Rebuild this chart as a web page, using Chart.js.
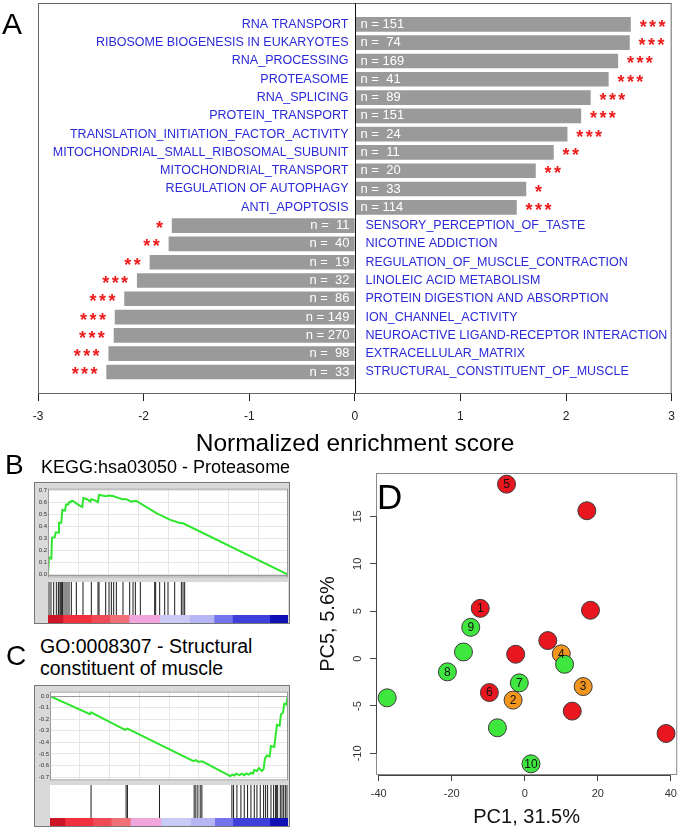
<!DOCTYPE html>
<html>
<head>
<meta charset="utf-8">
<script src="https://cdn.jsdelivr.net/npm/chart.js@4.4.1/dist/chart.umd.min.js"></script>
<style>
  body { margin: 0; background: #fff; width: 683px; height: 831px; position: relative; overflow: hidden;
         font-family: "Liberation Sans", Arial, sans-serif; }
  canvas { position: absolute; }
  .txt { position: absolute; line-height: 1; white-space: nowrap; color: #000; }
  .gsea { position: absolute; box-sizing: border-box; border: 1px solid #777; background: #d9d9d9; }
  .gsea canvas { background: #fff; }
  .gsea canvas.es { background: transparent; }
</style>
</head>
<body>

<canvas id="nesChart" style="left:0;top:0" width="683" height="432"></canvas>
<div class="txt" style="left:2px;top:9px;font-size:30px">A</div>
<div class="txt" style="left:155px;top:431px;width:400px;text-align:center;font-size:24.5px">Normalized enrichment score</div>

<div class="txt" style="left:5px;top:451px;font-size:28px">B</div>
<div class="txt" style="left:41px;top:458px;font-size:18px">KEGG:hsa03050 - Proteasome</div>
<div class="gsea" style="left:34px;top:482px;width:256px;height:142px">
  <canvas id="esB" class="es" style="left:0;top:1px" width="253" height="98"></canvas>
  <canvas id="hitB" style="left:13px;top:99px" width="240" height="33"></canvas>
  <canvas id="barB" style="left:13px;top:132px" width="240" height="8"></canvas>
</div>

<div class="txt" style="left:6px;top:642px;font-size:28px">C</div>
<div class="txt" style="left:40px;top:634.6px;font-size:19.5px;line-height:22.6px">GO:0008307 - Structural<br>constituent of muscle</div>
<div class="gsea" style="left:34px;top:685px;width:256px;height:142px">
  <canvas id="esC" class="es" style="left:0;top:1px" width="253" height="98"></canvas>
  <canvas id="hitC" style="left:15px;top:99px" width="238" height="33"></canvas>
  <canvas id="barC" style="left:15px;top:132px" width="238" height="8"></canvas>
</div>

<canvas id="pcaChart" style="left:300px;top:460px" width="383" height="371"></canvas>
<div class="txt" style="left:377px;top:478.7px;font-size:35px">D</div>

<script>
// ---- panel A: normalized enrichment scores
const pathways = [
    'RNA TRANSPORT', 'RIBOSOME BIOGENESIS IN EUKARYOTES', 'RNA_PROCESSING', 'PROTEASOME',
    'RNA_SPLICING', 'PROTEIN_TRANSPORT', 'TRANSLATION_INITIATION_FACTOR_ACTIVITY',
    'MITOCHONDRIAL_SMALL_RIBOSOMAL_SUBUNIT', 'MITOCHONDRIAL_TRANSPORT', 'REGULATION OF AUTOPHAGY',
    'ANTI_APOPTOSIS', 'SENSORY_PERCEPTION_OF_TASTE', 'NICOTINE ADDICTION',
    'REGULATION_OF_MUSCLE_CONTRACTION', 'LINOLEIC ACID METABOLISM', 'PROTEIN DIGESTION AND ABSORPTION',
    'ION_CHANNEL_ACTIVITY', 'NEUROACTIVE LIGAND-RECEPTOR INTERACTION', 'EXTRACELLULAR_MATRIX',
    'STRUCTURAL_CONSTITUENT_OF_MUSCLE'
];
const nes = [2.61, 2.60, 2.49, 2.40, 2.23, 2.14, 2.01, 1.88, 1.71, 1.62, 1.53,
             -1.73, -1.76, -1.94, -2.06, -2.18, -2.27, -2.28, -2.33, -2.35];
const setSize = [151, 74, 169, 41, 89, 151, 24, 11, 20, 33, 114, 11, 40, 19, 32, 86, 149, 270, 98, 33];
const signif = ['***', '***', '***', '***', '***', '***', '***', '**', '**', '*', '***',
                '*', '**', '**', '***', '***', '***', '***', '***', '***'];
const nesTicks = [-3, -2, -1, 0, 1, 2, 3];

// ---- panels B and C: running enrichment score along the ranked gene list
const rankedGenes = 16500;
const rankGrid = 2000;
const proteasomeRank = [0, 46, 69, 229, 275, 458, 527, 688, 756, 917, 986, 1169, 1238, 1398, 1444, 1559,
    1604, 1719, 2063, 2361, 2430, 2682, 2911, 2980, 3232, 3438, 3507, 3736, 3965, 4194, 4515, 4744,
    5111, 5386, 5730, 5959, 6074, 7449, 8366, 9008, 9283, 16500];
const proteasomeES = [0, 0, 0.143, 0.135, 0.306, 0.311, 0.351, 0.351, 0.432, 0.432, 0.539, 0.532, 0.582,
    0.582, 0.602, 0.602, 0.612, 0.612, 0.582, 0.562, 0.637, 0.627, 0.607, 0.627, 0.617, 0.602, 0.662,
    0.657, 0.652, 0.657, 0.652, 0.642, 0.627, 0.627, 0.607, 0.612, 0.612, 0.512, 0.457, 0.432, 0.427, 0];
const proteasomeHits = [69, 206, 390, 573, 711, 756, 848, 940, 986, 1031, 1169, 1306, 1444, 1604, 1948,
    2407, 2980, 3438, 3507, 3965, 4194, 4355, 4515, 4699, 5157, 5615, 5845, 6005, 6349, 7334, 7403,
    7678, 8022, 8251, 8709, 9168, 9283, 9397];
const proteasomeTicks = [0, 0.1, 0.2, 0.3, 0.4, 0.5, 0.6, 0.7];

const muscleRank = [0, 2777, 2846, 5207, 5368, 9950, 10112, 10297, 10552, 12496, 12634, 12773, 12912,
    13143, 13282, 13467, 13606, 13791, 13930, 14069, 14162, 14347, 14486, 14694, 14810, 14902, 15041,
    15227, 15319, 15550, 15735, 15920, 16013, 16152, 16244, 16383, 16476];
const muscleES = [0, -0.157, -0.141, -0.293, -0.282, -0.562, -0.554, -0.569, -0.564, -0.692, -0.679,
    -0.687, -0.671, -0.684, -0.671, -0.684, -0.669, -0.679, -0.663, -0.671, -0.640, -0.648, -0.622,
    -0.648, -0.632, -0.538, -0.514, -0.522, -0.431, -0.439, -0.248, -0.256, -0.157, -0.144, -0.065,
    -0.073, 0];
const muscleHits = [2846, 5276, 5368, 7590, 9996, 10112, 10251, 10413, 10529, 12611, 12727, 12958, 13236,
    13467, 13698, 13930, 14162, 14347, 14578, 14810, 14948, 15087, 15319, 15504, 15643, 15689, 15782,
    15967, 16082, 16198, 16314, 16429];
const muscleTicks = [0, -0.1, -0.2, -0.3, -0.4, -0.5, -0.6, -0.7];

// ranked list metric shading (segment borders)
const rankBreaks = [0, 1031, 2980, 4240, 5570, 7678, 9740, 11414, 12675, 15240, 16500];
const rankShades = ['#cc1526', '#f0303e', '#ee4a58', '#f07078', '#f0a6dc', '#cacaf6', '#b6b6f4',
                    '#7474ec', '#3f3fdc', '#1010b4'];

// ---- panel D: PCA
const pc1 = [-5.0, 17.0, -12.2, 18.0, 6.3, -2.5, -9.7, 13.0, 38.7,
             10.0, 16.0, -3.2,
             -14.8, -16.8, 10.9, -21.2, -1.5, -37.7, -7.5, 1.7];
const pc5 = [18.4, 15.6, 5.3, 5.1, 1.9, 0.46, -3.58, -5.54, -7.9,
             0.5, -2.95, -4.38,
             3.3, 0.7, -0.6, -1.4, -2.56, -4.14, -7.3, -11.1];
const sampleGroup = ['red', 'red', 'red', 'red', 'red', 'red', 'red', 'red', 'red',
                     'orange', 'orange', 'orange',
                     'green', 'green', 'green', 'green', 'green', 'green', 'green', 'green'];
const sampleLabel = ['5', '', '1', '', '', '', '6', '', '', '4', '3', '2', '9', '', '', '8', '7', '', '', '10'];
const pc1Ticks = [-40, -20, 0, 20, 40];
const pc5Ticks = [-10, -5, 0, 5, 10, 15];
const groupColors = { red: '#e8161e', orange: '#f29620', green: '#3ee63e' };

const FONT = '"Liberation Sans", Arial, sans-serif';
Chart.defaults.font.family = FONT;
Chart.defaults.animation = false;
Chart.defaults.responsive = false;
Chart.defaults.layout.autoPadding = false;
Chart.defaults.plugins.legend.display = false;
Chart.defaults.plugins.tooltip.enabled = false;

// labels, set sizes and significance stars around the bars
const nesDecor = {
    id: 'nesDecor',
    afterDatasetsDraw(chart) {
        const { ctx, chartArea: a, scales: { x } } = chart;
        const x0 = Math.round(x.getPixelForValue(0)) + 0.5;
        ctx.save();
        ctx.strokeStyle = '#666';
        ctx.lineWidth = 1;
        ctx.strokeRect(a.left + 0.5, a.top + 0.5, a.right - a.left - 1, a.bottom - a.top);
        ctx.strokeStyle = '#111';
        ctx.beginPath();
        ctx.moveTo(x0, a.top);
        ctx.lineTo(x0, a.bottom);
        ctx.stroke();

        chart.getDatasetMeta(0).data.forEach((bar, i) => {
            const up = nes[i] > 0;
            const y = bar.y;
            ctx.textBaseline = 'middle';
            ctx.font = '12.5px ' + FONT;
            ctx.fillStyle = '#2a2ad8';
            ctx.textAlign = up ? 'right' : 'left';
            ctx.fillText(pathways[i], up ? x0 - 7 : x0 + 10, y);

            ctx.font = '13px ' + FONT;
            ctx.fillStyle = '#ffffff';
            ctx.textAlign = up ? 'left' : 'right';
            ctx.fillText('n = ' + String(setSize[i]).padStart(3, ' '), up ? x0 + 5 : x0 - 6, y);

            ctx.font = 'bold 18px ' + FONT;
            ctx.fillStyle = '#ee1c1c';
            ctx.textAlign = 'center';
            ctx.textBaseline = 'alphabetic';
            for (let s = 0; s < signif[i].length; s++) {
                const cx = up ? bar.x + 12.7 + s * 9.4 : bar.x - 12.7 - s * 9.4;
                ctx.fillText('*', cx, y + 8.5);
            }
        });
        ctx.restore();
    }
};

new Chart(document.getElementById('nesChart'), {
    type: 'bar',
    data: {
        datasets: [{
            data: nes.map((v, i) => ({ x: v, y: i })),
            backgroundColor: '#9a9a9a',
            barThickness: 14
        }]
    },
    options: {
        indexAxis: 'y',
        layout: { padding: { left: 38, right: 5, top: 3, bottom: 0 } },
        scales: {
            x: {
                type: 'linear', min: -3, max: 3,
                afterBuildTicks: s => { s.ticks = nesTicks.map(v => ({ value: v })); },
                grid: { drawOnChartArea: false, drawTicks: true, tickLength: 8, tickColor: '#222' },
                border: { display: true, color: '#222' },
                ticks: { font: { size: 12 }, color: '#222', padding: 8, callback: v => String(v) },
                afterFit: s => { s.height = 39; }
            },
            y: { type: 'linear', display: false, reverse: true, offset: false, min: -1.17, max: 20.15 }
        }
    },
    plugins: [nesDecor]
});

// white plot area with a thin frame and a zero line
const esFrame = {
    id: 'esFrame',
    beforeDraw(chart) {
        const { ctx, chartArea: a } = chart;
        ctx.save();
        ctx.fillStyle = '#fff';
        ctx.fillRect(a.left, a.top, a.right - a.left, a.bottom - a.top);
        ctx.restore();
    },
    afterDraw(chart) {
        const { ctx, chartArea: a, scales: { y } } = chart;
        const y0 = Math.round(y.getPixelForValue(0)) + 0.5;
        ctx.save();
        ctx.strokeStyle = '#9a9a9a';
        ctx.lineWidth = 1;
        ctx.strokeRect(a.left + 0.5, a.top + 0.5, a.right - a.left - 1, a.bottom - a.top - 1);
        ctx.beginPath();
        ctx.moveTo(a.left, y0);
        ctx.lineTo(a.right, y0);
        ctx.stroke();
        ctx.restore();
    }
};

function drawGsea(tag, ranks, es, hits, yTicks, yMin, yMax, axisWidth) {
    new Chart(document.getElementById('es' + tag), {
        type: 'line',
        data: {
            datasets: [{
                data: ranks.map((r, i) => ({ x: r, y: es[i] })),
                borderColor: '#2ee62e',
                borderWidth: 2,
                pointRadius: 0,
                tension: 0
            }]
        },
        options: {
            layout: { padding: 0 },
            scales: {
                x: {
                    type: 'linear', min: 0, max: rankedGenes,
                    ticks: { display: false, stepSize: rankGrid, includeBounds: false },
                    grid: { color: '#e6e6e6', drawTicks: false },
                    border: { display: false },
                    afterFit: s => { s.height = 0; }
                },
                y: {
                    min: yMin, max: yMax,
                    afterBuildTicks: s => { s.ticks = yTicks.map(v => ({ value: v })); },
                    ticks: { font: { size: 6 }, color: '#333', padding: 1, callback: v => v.toFixed(1) },
                    grid: { color: '#e6e6e6', drawTicks: false },
                    border: { display: false },
                    afterFit: s => { s.width = axisWidth; }
                }
            }
        },
        plugins: [esFrame]
    });

    const hitCanvas = document.getElementById('hit' + tag);
    new Chart(hitCanvas, {
        type: 'scatter',
        data: {
            datasets: [{
                data: hits.map(r => ({ x: r, y: 0.5 })),
                pointStyle: 'line',
                pointRotation: 90,
                pointRadius: hitCanvas.height / 2,
                pointBorderColor: '#1a1a1a',
                pointBorderWidth: 1
            }]
        },
        options: {
            layout: { padding: 0 },
            clip: false,
            scales: {
                x: { type: 'linear', min: 0, max: rankedGenes, display: false },
                y: { min: 0, max: 1, display: false }
            }
        }
    });

    new Chart(document.getElementById('bar' + tag), {
        type: 'bar',
        data: {
            labels: [''],
            datasets: rankShades.map((c, i) => ({
                data: [rankBreaks[i + 1] - rankBreaks[i]],
                backgroundColor: c,
                barPercentage: 1,
                categoryPercentage: 1
            }))
        },
        options: {
            indexAxis: 'y',
            layout: { padding: 0 },
            scales: {
                x: { stacked: true, min: 0, max: rankedGenes, display: false },
                y: { stacked: true, display: false }
            }
        }
    });
}

drawGsea('B', proteasomeRank, proteasomeES, proteasomeHits, proteasomeTicks, -0.0226, 0.715, 13);
drawGsea('C', muscleRank, muscleES, muscleHits, muscleTicks, -0.729, 0.039, 15);

// PCA frame, R-style axis lines, rotated y labels and sample numbers
const pcaDecor = {
    id: 'pcaDecor',
    afterDatasetsDraw(chart) {
        const { ctx, chartArea: a, scales: { x, y } } = chart;
        ctx.save();
        ctx.strokeStyle = '#8a8a8a';
        ctx.lineWidth = 1;
        ctx.strokeRect(a.left + 0.5, a.top + 0.5, a.right - a.left - 1, a.bottom - a.top - 1);
        ctx.strokeStyle = '#444';
        ctx.beginPath();
        ctx.moveTo(x.getPixelForValue(pc1Ticks[0]), a.bottom + 0.5);
        ctx.lineTo(x.getPixelForValue(pc1Ticks[pc1Ticks.length - 1]), a.bottom + 0.5);
        ctx.moveTo(a.left + 0.5, y.getPixelForValue(pc5Ticks[0]));
        ctx.lineTo(a.left + 0.5, y.getPixelForValue(pc5Ticks[pc5Ticks.length - 1]));
        ctx.stroke();

        ctx.font = '11px ' + FONT;
        ctx.fillStyle = '#333';
        ctx.textAlign = 'center';
        ctx.textBaseline = 'middle';
        pc5Ticks.forEach(v => {
            ctx.save();
            ctx.translate(a.left - 18, y.getPixelForValue(v));
            ctx.rotate(-Math.PI / 2);
            ctx.fillText(String(v), 0, 0);
            ctx.restore();
        });

        ctx.font = '12px ' + FONT;
        ctx.fillStyle = '#111';
        chart.getDatasetMeta(0).data.forEach((pt, i) => {
            if (sampleLabel[i]) ctx.fillText(sampleLabel[i], pt.x, pt.y + 0.5);
        });
        ctx.restore();
    }
};

new Chart(document.getElementById('pcaChart'), {
    type: 'scatter',
    data: {
        datasets: [{
            data: pc1.map((v, i) => ({ x: v, y: pc5[i] })),
            pointBackgroundColor: sampleGroup.map(g => groupColors[g]),
            pointBorderColor: '#3a3a3a',
            pointBorderWidth: 1,
            pointRadius: 9
        }]
    },
    options: {
        layout: { padding: { left: 0, right: 4, top: 13, bottom: 0 } },
        clip: false,
        scales: {
            x: {
                type: 'linear', min: -40.76, max: 41.76,
                afterBuildTicks: s => { s.ticks = pc1Ticks.map(v => ({ value: v })); },
                grid: { drawOnChartArea: false, drawTicks: true, tickLength: 6, tickColor: '#444' },
                border: { display: false },
                ticks: { font: { size: 11 }, color: '#333', padding: 6 },
                title: { display: true, text: 'PC1, 31.5%', font: { size: 20 }, color: '#111', padding: { top: 0, bottom: 2 } },
                afterFit: s => { s.height = 56; }
            },
            y: {
                type: 'linear', min: -12.28, max: 19.58,
                afterBuildTicks: s => { s.ticks = pc5Ticks.map(v => ({ value: v })); },
                grid: { drawOnChartArea: false, drawTicks: true, tickLength: 6, tickColor: '#444' },
                border: { display: false },
                ticks: { display: false },
                title: { display: true, text: 'PC5, 5.6%', font: { size: 20 }, color: '#111', padding: { top: 16, bottom: 0 } },
                afterFit: s => { s.width = 76; }
            }
        }
    },
    plugins: [pcaDecor]
});
</script>
</body>
</html>
